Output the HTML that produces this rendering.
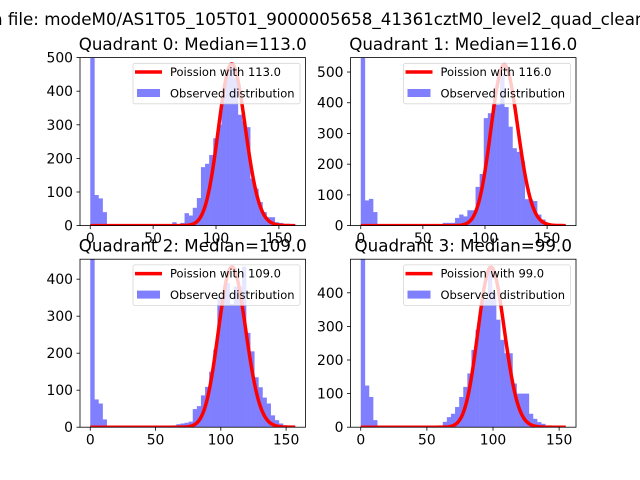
<!DOCTYPE html>
<html><head><meta charset="utf-8"><style>
html,body{margin:0;padding:0;background:#fff;}
svg{display:block;font-family:"DejaVu Sans","Liberation Sans",sans-serif;}
</style></head><body>
<svg id="fig" width="640" height="480" viewBox="0 0 640 480" xmlns="http://www.w3.org/2000/svg">
<text x="-7" y="25" font-size="16.7" text-anchor="end">Histogram of counts i</text>
<text x="-8" y="25" font-size="16.7">n file: modeM0/AS1T05_105T01_9000005658_41361cztM0_level2_quad_clean.evt</text>
</svg>
<script>
// ---- data ----
const quadrantNames = ["Quadrant 0", "Quadrant 1", "Quadrant 2", "Quadrant 3"];
const medians = [113.0, 116.0, 109.0, 99.0];
const dataMax = [163, 165, 157, 155];
const yMax = [500, 547, 454, 500];
const yTicks0 = [0, 100, 200, 300, 400, 500];
const yTicks1 = [0, 100, 200, 300, 400, 500];
const yTicks2 = [0, 100, 200, 300, 400];
const yTicks3 = [0, 100, 200, 300, 400];
const xTicks = [0, 50, 100, 150];
const curvePeaks = [481, 524, 433, 476];
const counts0 = [600,91,81,40,0,0,0,0,0,0,0,0,0,0,0,0,0,0,0,0,10,5,8,37,30,53,82,174,184,210,260,300,390,450,470,440,330,310,293,140,110,70,40,25,25,10,8,5,5,3];
const counts1 = [650,82,87,44,0,0,0,0,0,0,0,0,0,0,0,0,0,0,0,0,9,9,9,25,36,30,50,50,126,168,350,366,394,394,495,386,322,252,240,209,86,85,80,36,20,8,6,4,3,2];
const counts2 = [550,75,64,21,0,0,0,0,0,0,0,0,0,0,0,0,0,0,0,0,5,8,10,12,15,49,57,86,109,150,210,352,360,390,333,380,380,434,255,205,135,108,80,64,32,19,10,5,3,2];
const counts3 = [600,124,90,21,0,0,0,0,0,0,0,0,0,0,0,0,0,0,0,0,16,30,40,60,90,120,160,230,290,370,380,480,400,320,260,220,220,130,100,100,100,40,25,15,10,5,3,2,1,1];
const allCounts = [counts0, counts1, counts2, counts3];
const allYTicks = [yTicks0, yTicks1, yTicks2, yTicks3];

// ---- layout ----
const NS = "http://www.w3.org/2000/svg";
const svg = document.getElementById('fig');
const axBoxes = [[80,57.6,225.5,168],[350.5,57.6,225.5,168],[80,259.2,225.5,168],[350.5,259.2,225.5,168]];
function mk(tag, attrs, parent){const e=document.createElementNS(NS,tag);for(const k in attrs)e.setAttribute(k,attrs[k]);(parent||svg).appendChild(e);return e;}
function lnGamma(z){const g=[76.18009172947146,-86.50532032941677,24.01409824083091,-1.231739572450155,0.1208650973866179e-2,-0.5395239384953e-5];let x=z,y=z,t=x+5.5;t-=(x+0.5)*Math.log(t);let s=1.000000000190015;for(let j=0;j<6;j++)s+=g[j]/++y;return -t+Math.log(2.5066282746310005*s/x);}
function logPmf(k,l){return k*Math.log(l)-l-lnGamma(k+1);}

for(let q=0;q<4;q++){
  const [L,T,W,H]=axBoxes[q];
  const counts=allCounts[q], n=counts.length, xmax=dataMax[q];
  const margin=xmax*0.05, x0=-margin, x1=xmax+margin;
  const sx=v=>L+(v-x0)/(x1-x0)*W;
  const sy=v=>T+H-v/yMax[q]*H;
  const g=mk('g',{});
  
  
  const clipId='clip'+q;
  const cp=mk('clipPath',{id:clipId},g);mk('rect',{x:L,y:T,width:W,height:H},cp);
  const plot=mk('g',{'clip-path':'url(#'+clipId+')'},g);
  const bw=xmax/n;
  for(let i=0;i<n;i++){
    if(counts[i]<=0)continue;
    const r=mk('rect',{x:sx(i*bw),y:sy(counts[i]),width:sx((i+1)*bw)-sx(i*bw)+0.3,height:sy(0)-sy(counts[i]),fill:'#8080ff'},plot);
    
    
  }
  const lam=medians[q];
  const ref=logPmf(Math.round(lam),lam);
  let d='';
  for(let k=0;k<=xmax;k++){const v=curvePeaks[q]*Math.exp(logPmf(k,lam)-ref);d+=(k?'L':'M')+sx(k).toFixed(2)+' '+sy(v).toFixed(2);}
  const pl=mk('path',{d:d,fill:'none',stroke:'#ff0000','stroke-width':3.5,'stroke-linejoin':'round'},plot);
  
  
  const sp=mk('rect',{x:L,y:T,width:W,height:H,fill:'none',stroke:'#000','stroke-width':0.8},g);
  
  
  for(const t of xTicks){
    const x=sx(t);
    mk('line',{x1:x,x2:x,y1:T+H,y2:T+H+3.5,stroke:'#000','stroke-width':0.8},g);
    const tl=mk('text',{x:x,y:T+H+17.5,'font-size':13.9,'text-anchor':'middle'},g);tl.textContent=String(t);
    
    
  }
  for(const t of allYTicks[q]){
    const y=sy(t);
    mk('line',{x1:L-3.5,x2:L,y1:y,y2:y,stroke:'#000','stroke-width':0.8},g);
    const tl=mk('text',{x:L-7,y:y+5,'font-size':13.9,'text-anchor':'end'},g);tl.textContent=String(t);
    
    
  }
  const ti=mk('text',{x:L+W/2,y:T-7.6,'font-size':16.7,'text-anchor':'middle'},g);
  ti.textContent=quadrantNames[q]+': Median='+medians[q].toFixed(1);
  
  
  const lg=mk('g',{},g);
  
  
  const lx=L+W-172.5, ly=T+5.7;
  mk('rect',{x:lx,y:ly,width:167,height:40.5,rx:2,fill:'rgba(255,255,255,0.8)',stroke:'rgba(204,204,204,0.8)','stroke-width':0.8},lg);
  mk('line',{x1:lx+2,x2:lx+29,y1:ly+8.7,y2:ly+8.7,stroke:'#ff0000','stroke-width':3.5},lg);
  mk('rect',{x:lx+4,y:ly+25.7,width:23,height:8,fill:'#8080ff'},lg);
  const t1=mk('text',{x:lx+37,y:ly+12.8,'font-size':11.5},lg);t1.textContent='Poission with '+medians[q].toFixed(1);
  
  
  const t2=mk('text',{x:lx+37,y:ly+34,'font-size':11.5},lg);t2.textContent='Observed distribution';
  
  
}
</script>
</body></html>
